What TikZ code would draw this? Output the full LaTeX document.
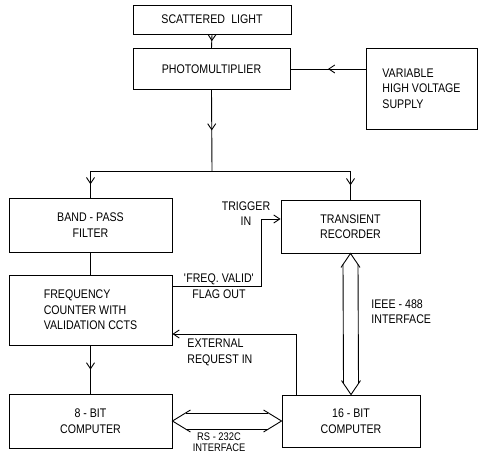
\documentclass[tikz,border=0pt]{standalone}
\usepackage{fontspec}
\setmainfont{Liberation Sans}[FakeStretch=0.85]
\usetikzlibrary{arrows.meta,decorations.markings,calc}
\newcommand\dgfont{\fontsize{12.5}{15.5}\selectfont}
\newcommand\dgfonttight{\fontsize{11}{11.5}\selectfont}
\begin{document}
\begin{tikzpicture}[x=1pt,y=-1pt,line width=0.9pt,
  box/.style={draw,rectangle,inner sep=0pt,align=center,font=\dgfont},
  lbl/.style={inner sep=0pt,font=\dgfont},
  midarrow/.style={postaction={decorate},decoration={markings,
     mark=at position 0.5 with {\arrow{Straight Barb[length=6pt,width=8pt]}}}},
  endarrow/.style={-{Straight Barb[length=6pt,width=8pt]}}]
\useasboundingbox (0,0) rectangle (481,454);
% boxes
\node[box,minimum width=158pt,minimum height=29pt] (sl) at (212,19.5) {SCATTERED\hspace{0.5em}LIGHT};
\node[box,minimum width=157pt,minimum height=41pt] (pm) at (211.5,69) {PHOTOMULTIPLIER};
\node[box,minimum width=111pt,minimum height=81pt,align=left] (hv) at (421.5,88.5) {VARIABLE\\HIGH VOLTAGE\\SUPPLY};
\node[box,minimum width=163pt,minimum height=54pt] (bp) at (90.5,225) {BAND - PASS\\FILTER};
\node[box,minimum width=139pt,minimum height=53pt] (tr) at (350.5,226.5) {TRANSIENT\\RECORDER};
\node[box,minimum width=163pt,minimum height=70pt,align=left] (fc) at (90.5,310) {FREQUENCY\\COUNTER WITH\\VALIDATION CCTS};
\node[box,minimum width=163pt,minimum height=54pt] (c8) at (90.5,421) {8 - BIT\\COMPUTER};
\node[box,minimum width=138pt,minimum height=52pt] (c16) at (351,421) {16 - BIT\\COMPUTER};
% labels
\node[lbl,align=center] (trig) at (246,213.5) {TRIGGER\\IN};
\node[lbl,align=center] (fv) at (219,286) {\textquotesingle FREQ. VALID\textquotesingle\\FLAG OUT};
\node[lbl,align=left,anchor=west] (ieee) at (371,311.5) {IEEE - 488\\INTERFACE};
\node[lbl,align=left,anchor=west] (ext) at (187,352.5) {EXTERNAL\\REQUEST IN};
\node[lbl,align=center,font=\dgfonttight,anchor=south] (rs) at (219,452.5) {RS - 232C\\INTERFACE};
% connectors
\draw[midarrow] (sl.south) -- (pm.north);
\draw[midarrow] (hv.west |- pm.east) -- (pm.east);
\coordinate (split) at (212,171);
\draw[midarrow] (pm.south) -- (split);
\coordinate (bptop) at (bp.north |- split);
\coordinate (trtop) at (tr.north |- split);
\draw (bptop) -- (trtop);
\draw[midarrow] (bptop) -- (bp.north);
\draw[midarrow] (trtop) -- (tr.north);
\draw (bp.south) -- (fc.north);
\draw[midarrow] (fc.south) -- (c8.north);
\coordinate (trg1) at (261,286);
\coordinate (trg2) at (261,219);
\draw[endarrow] ([yshift=24pt]fc.east) -- (trg1) -- (trg2) -- ([yshift=7.5pt]tr.west);
\coordinate (er) at (296,334);
\draw[endarrow] ([xshift=-55pt]c16.north) -- (er) -- ([yshift=-24pt]fc.east);
% IEEE-488 double arrow
\draw ($(tr.south)+(-9.5,14)$) -- (tr.south) -- ($(tr.south)+(9.5,14)$);
\draw ($(tr.south)+(-7.5,11)$) -- ($(c16.north)+(-7.5,-11)$);
\draw ($(tr.south)+(7.5,11)$) -- ($(c16.north)+(7.5,-11)$);
\draw ($(c16.north)+(-9.5,-14)$) -- (c16.north) -- ($(c16.north)+(9.5,-14)$);
% RS-232C double arrow
\draw ($(c8.east)+(18,-11)$) -- (c8.east) -- ($(c8.east)+(18,11)$);
\draw ($(c8.east)+(14,-8)$) -- ($(c16.west)+(-14,-8)$);
\draw ($(c8.east)+(14,8)$) -- ($(c16.west)+(-14,8)$);
\draw ($(c16.west)+(-18,-11)$) -- (c16.west) -- ($(c16.west)+(-18,11)$);
\end{tikzpicture}
\end{document}
